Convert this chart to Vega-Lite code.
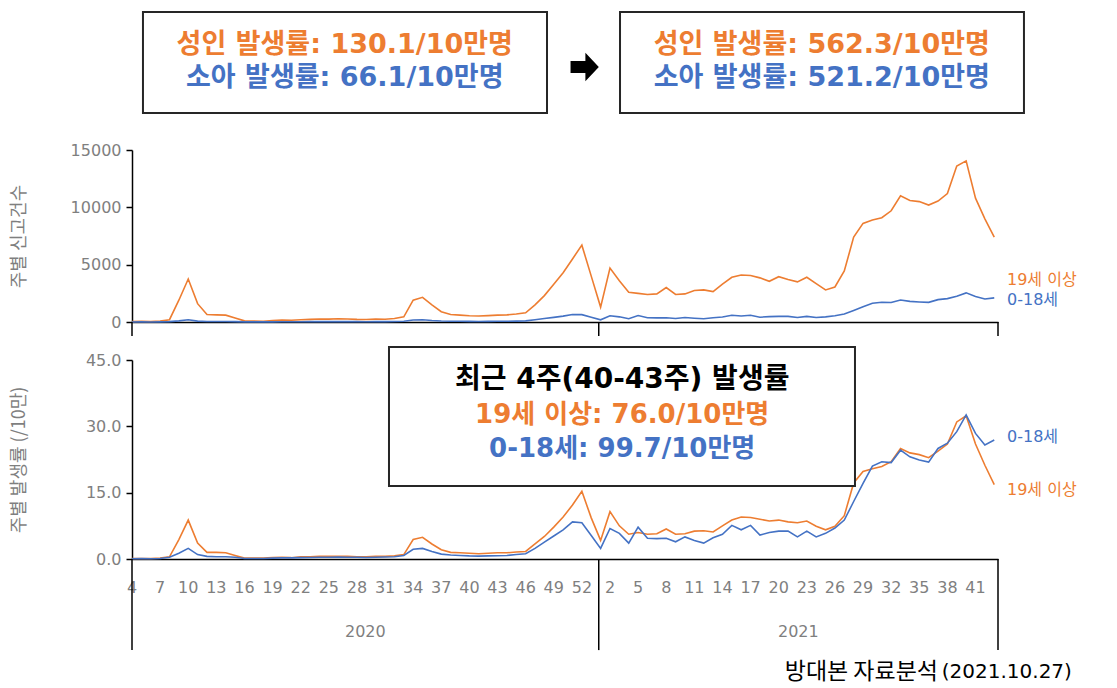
{
  "$schema": "https://vega.github.io/schema/vega-lite/v6.json",
  "background": "white",
  "padding": {"left": 10, "top": 5, "right": 5, "bottom": 5},
  "config": {"view": {"stroke": null}, "font": "DejaVu Sans, Noto Sans CJK KR"},
  "bounds": "flush",
  "spacing": 38,
  "datasets": {
    "d": [
      {"i":0,"yr":2020,"w":4,"a_n":30,"c_n":5,"a_r":0.1,"c_r":0.05},
      {"i":1,"yr":2020,"w":5,"a_n":60,"c_n":8,"a_r":0.1,"c_r":0.1},
      {"i":2,"yr":2020,"w":6,"a_n":40,"c_n":5,"a_r":0.1,"c_r":0.05},
      {"i":3,"yr":2020,"w":7,"a_n":80,"c_n":10,"a_r":0.2,"c_r":0.1},
      {"i":4,"yr":2020,"w":8,"a_n":200,"c_n":30,"a_r":0.5,"c_r":0.4},
      {"i":5,"yr":2020,"w":9,"a_n":1900,"c_n":100,"a_r":4.4,"c_r":1.3},
      {"i":6,"yr":2020,"w":10,"a_n":3750,"c_n":190,"a_r":8.8,"c_r":2.4},
      {"i":7,"yr":2020,"w":11,"a_n":1600,"c_n":80,"a_r":3.6,"c_r":1.0},
      {"i":8,"yr":2020,"w":12,"a_n":650,"c_n":45,"a_r":1.5,"c_r":0.6},
      {"i":9,"yr":2020,"w":13,"a_n":620,"c_n":40,"a_r":1.5,"c_r":0.5},
      {"i":10,"yr":2020,"w":14,"a_n":600,"c_n":40,"a_r":1.4,"c_r":0.5},
      {"i":11,"yr":2020,"w":15,"a_n":350,"c_n":30,"a_r":0.8,"c_r":0.4},
      {"i":12,"yr":2020,"w":16,"a_n":100,"c_n":10,"a_r":0.2,"c_r":0.1},
      {"i":13,"yr":2020,"w":17,"a_n":80,"c_n":10,"a_r":0.2,"c_r":0.1},
      {"i":14,"yr":2020,"w":18,"a_n":70,"c_n":10,"a_r":0.2,"c_r":0.1},
      {"i":15,"yr":2020,"w":19,"a_n":120,"c_n":15,"a_r":0.3,"c_r":0.2},
      {"i":16,"yr":2020,"w":20,"a_n":180,"c_n":20,"a_r":0.4,"c_r":0.25},
      {"i":17,"yr":2020,"w":21,"a_n":150,"c_n":20,"a_r":0.3,"c_r":0.25},
      {"i":18,"yr":2020,"w":22,"a_n":200,"c_n":25,"a_r":0.5,"c_r":0.3},
      {"i":19,"yr":2020,"w":23,"a_n":230,"c_n":30,"a_r":0.5,"c_r":0.35},
      {"i":20,"yr":2020,"w":24,"a_n":260,"c_n":30,"a_r":0.6,"c_r":0.4},
      {"i":21,"yr":2020,"w":25,"a_n":250,"c_n":30,"a_r":0.6,"c_r":0.4},
      {"i":22,"yr":2020,"w":26,"a_n":280,"c_n":35,"a_r":0.6,"c_r":0.45},
      {"i":23,"yr":2020,"w":27,"a_n":260,"c_n":30,"a_r":0.6,"c_r":0.4},
      {"i":24,"yr":2020,"w":28,"a_n":230,"c_n":30,"a_r":0.5,"c_r":0.4},
      {"i":25,"yr":2020,"w":29,"a_n":220,"c_n":25,"a_r":0.5,"c_r":0.35},
      {"i":26,"yr":2020,"w":30,"a_n":250,"c_n":30,"a_r":0.6,"c_r":0.4},
      {"i":27,"yr":2020,"w":31,"a_n":240,"c_n":35,"a_r":0.6,"c_r":0.45},
      {"i":28,"yr":2020,"w":32,"a_n":300,"c_n":40,"a_r":0.7,"c_r":0.5},
      {"i":29,"yr":2020,"w":33,"a_n":450,"c_n":60,"a_r":1.0,"c_r":0.8},
      {"i":30,"yr":2020,"w":34,"a_n":1900,"c_n":170,"a_r":4.4,"c_r":2.2},
      {"i":31,"yr":2020,"w":35,"a_n":2150,"c_n":190,"a_r":4.9,"c_r":2.4},
      {"i":32,"yr":2020,"w":36,"a_n":1500,"c_n":130,"a_r":3.4,"c_r":1.7},
      {"i":33,"yr":2020,"w":37,"a_n":900,"c_n":90,"a_r":2.1,"c_r":1.1},
      {"i":34,"yr":2020,"w":38,"a_n":650,"c_n":70,"a_r":1.5,"c_r":0.9},
      {"i":35,"yr":2020,"w":39,"a_n":600,"c_n":60,"a_r":1.4,"c_r":0.8},
      {"i":36,"yr":2020,"w":40,"a_n":550,"c_n":55,"a_r":1.3,"c_r":0.7},
      {"i":37,"yr":2020,"w":41,"a_n":520,"c_n":50,"a_r":1.2,"c_r":0.65},
      {"i":38,"yr":2020,"w":42,"a_n":560,"c_n":55,"a_r":1.3,"c_r":0.7},
      {"i":39,"yr":2020,"w":43,"a_n":600,"c_n":60,"a_r":1.4,"c_r":0.75},
      {"i":40,"yr":2020,"w":44,"a_n":620,"c_n":65,"a_r":1.4,"c_r":0.8},
      {"i":41,"yr":2020,"w":45,"a_n":700,"c_n":80,"a_r":1.6,"c_r":1.0},
      {"i":42,"yr":2020,"w":46,"a_n":800,"c_n":95,"a_r":1.7,"c_r":1.2},
      {"i":43,"yr":2020,"w":47,"a_n":1500,"c_n":190,"a_r":3.4,"c_r":2.4},
      {"i":44,"yr":2020,"w":48,"a_n":2300,"c_n":300,"a_r":5.1,"c_r":3.8},
      {"i":45,"yr":2020,"w":49,"a_n":3300,"c_n":400,"a_r":7.2,"c_r":5.2},
      {"i":46,"yr":2020,"w":50,"a_n":4300,"c_n":510,"a_r":9.5,"c_r":6.6},
      {"i":47,"yr":2020,"w":51,"a_n":5500,"c_n":650,"a_r":12.2,"c_r":8.4},
      {"i":48,"yr":2020,"w":52,"a_n":6700,"c_n":640,"a_r":15.3,"c_r":8.2},
      {"i":49,"yr":2020,"w":53,"a_n":4000,"c_n":410,"a_r":9.3,"c_r":5.3},
      {"i":50,"yr":2021,"w":1,"a_n":1300,"c_n":190,"a_r":4.2,"c_r":2.4},
      {"i":51,"yr":2021,"w":2,"a_n":4700,"c_n":540,"a_r":10.7,"c_r":6.9},
      {"i":52,"yr":2021,"w":3,"a_n":3600,"c_n":450,"a_r":7.5,"c_r":5.8},
      {"i":53,"yr":2021,"w":4,"a_n":2600,"c_n":280,"a_r":5.6,"c_r":3.6},
      {"i":54,"yr":2021,"w":5,"a_n":2500,"c_n":560,"a_r":6.0,"c_r":7.2},
      {"i":55,"yr":2021,"w":6,"a_n":2400,"c_n":370,"a_r":5.6,"c_r":4.7},
      {"i":56,"yr":2021,"w":7,"a_n":2450,"c_n":360,"a_r":5.7,"c_r":4.6},
      {"i":57,"yr":2021,"w":8,"a_n":3000,"c_n":370,"a_r":6.8,"c_r":4.7},
      {"i":58,"yr":2021,"w":9,"a_n":2400,"c_n":300,"a_r":5.6,"c_r":3.9},
      {"i":59,"yr":2021,"w":10,"a_n":2450,"c_n":390,"a_r":5.7,"c_r":5.0},
      {"i":60,"yr":2021,"w":11,"a_n":2750,"c_n":330,"a_r":6.3,"c_r":4.2},
      {"i":61,"yr":2021,"w":12,"a_n":2800,"c_n":280,"a_r":6.4,"c_r":3.6},
      {"i":62,"yr":2021,"w":13,"a_n":2650,"c_n":370,"a_r":6.1,"c_r":4.8},
      {"i":63,"yr":2021,"w":14,"a_n":3300,"c_n":440,"a_r":7.5,"c_r":5.6},
      {"i":64,"yr":2021,"w":15,"a_n":3900,"c_n":590,"a_r":8.8,"c_r":7.6},
      {"i":65,"yr":2021,"w":16,"a_n":4100,"c_n":520,"a_r":9.5,"c_r":6.6},
      {"i":66,"yr":2021,"w":17,"a_n":4050,"c_n":590,"a_r":9.4,"c_r":7.6},
      {"i":67,"yr":2021,"w":18,"a_n":3850,"c_n":420,"a_r":9.0,"c_r":5.4},
      {"i":68,"yr":2021,"w":19,"a_n":3550,"c_n":470,"a_r":8.6,"c_r":6.0},
      {"i":69,"yr":2021,"w":20,"a_n":3950,"c_n":490,"a_r":8.8,"c_r":6.3},
      {"i":70,"yr":2021,"w":21,"a_n":3700,"c_n":490,"a_r":8.4,"c_r":6.3},
      {"i":71,"yr":2021,"w":22,"a_n":3500,"c_n":390,"a_r":8.2,"c_r":5.0},
      {"i":72,"yr":2021,"w":23,"a_n":3900,"c_n":490,"a_r":8.6,"c_r":6.3},
      {"i":73,"yr":2021,"w":24,"a_n":3350,"c_n":390,"a_r":7.4,"c_r":5.0},
      {"i":74,"yr":2021,"w":25,"a_n":2800,"c_n":450,"a_r":6.6,"c_r":5.8},
      {"i":75,"yr":2021,"w":26,"a_n":3050,"c_n":550,"a_r":7.4,"c_r":7.0},
      {"i":76,"yr":2021,"w":27,"a_n":4450,"c_n":690,"a_r":9.8,"c_r":8.8},
      {"i":77,"yr":2021,"w":28,"a_n":7400,"c_n":1010,"a_r":17.2,"c_r":13.0},
      {"i":78,"yr":2021,"w":29,"a_n":8600,"c_n":1330,"a_r":19.8,"c_r":17.1},
      {"i":79,"yr":2021,"w":30,"a_n":8900,"c_n":1640,"a_r":20.4,"c_r":21.0},
      {"i":80,"yr":2021,"w":31,"a_n":9100,"c_n":1720,"a_r":20.9,"c_r":22.0},
      {"i":81,"yr":2021,"w":32,"a_n":9700,"c_n":1700,"a_r":22.0,"c_r":21.8},
      {"i":82,"yr":2021,"w":33,"a_n":11000,"c_n":1920,"a_r":25.0,"c_r":24.6},
      {"i":83,"yr":2021,"w":34,"a_n":10600,"c_n":1800,"a_r":24.0,"c_r":23.1},
      {"i":84,"yr":2021,"w":35,"a_n":10500,"c_n":1750,"a_r":23.6,"c_r":22.4},
      {"i":85,"yr":2021,"w":36,"a_n":10200,"c_n":1710,"a_r":22.9,"c_r":21.9},
      {"i":86,"yr":2021,"w":37,"a_n":10550,"c_n":1950,"a_r":24.4,"c_r":25.0},
      {"i":87,"yr":2021,"w":38,"a_n":11200,"c_n":2040,"a_r":26.0,"c_r":26.2},
      {"i":88,"yr":2021,"w":39,"a_n":13600,"c_n":2250,"a_r":31.0,"c_r":28.8},
      {"i":89,"yr":2021,"w":40,"a_n":14050,"c_n":2540,"a_r":32.4,"c_r":32.6},
      {"i":90,"yr":2021,"w":41,"a_n":10800,"c_n":2220,"a_r":26.0,"c_r":28.4},
      {"i":91,"yr":2021,"w":42,"a_n":9000,"c_n":2010,"a_r":21.2,"c_r":25.8},
      {"i":92,"yr":2021,"w":43,"a_n":7400,"c_n":2100,"a_r":16.8,"c_r":26.9}
    ],
    "one": [{}]
  },
  "vconcat": [
    {
      "width": 866,
      "height": 107,
      "data": {"name": "one"},
      "layer": [
        {
          "mark": {"type": "rect", "fill": "white", "stroke": "#262626", "strokeWidth": 2},
          "encoding": {
            "x": {"datum": 1.17, "type": "quantitative", "scale": {"domain": [0, 92.4], "nice": false, "zero": false}, "axis": null},
            "x2": {"datum": 44.28},
            "y": {"datum": 100, "type": "quantitative", "scale": {"domain": [0, 107], "nice": false, "zero": false}, "axis": null},
            "y2": {"datum": -1}
          }
        },
        {
          "mark": {"type": "rect", "fill": "white", "stroke": "#262626", "strokeWidth": 2},
          "encoding": {
            "x": {"datum": 52.07, "type": "quantitative"},
            "x2": {"datum": 95.17},
            "y": {"datum": 100, "type": "quantitative"},
            "y2": {"datum": -1}
          }
        },
        {
          "mark": {"type": "text", "fontSize": 27, "fontWeight": "bold", "color": "#ED7D31", "align": "center", "baseline": "middle"},
          "encoding": {"x": {"datum": 22.7, "type": "quantitative"}, "y": {"datum": 67, "type": "quantitative"}, "text": {"value": "성인 발생률: 130.1/10만명"}}
        },
        {
          "mark": {"type": "text", "fontSize": 27, "fontWeight": "bold", "color": "#4472C4", "align": "center", "baseline": "middle"},
          "encoding": {"x": {"datum": 22.7, "type": "quantitative"}, "y": {"datum": 34, "type": "quantitative"}, "text": {"value": "소아 발생률: 66.1/10만명"}}
        },
        {
          "mark": {"type": "text", "fontSize": 27, "fontWeight": "bold", "color": "#ED7D31", "align": "center", "baseline": "middle"},
          "encoding": {"x": {"datum": 73.6, "type": "quantitative"}, "y": {"datum": 67, "type": "quantitative"}, "text": {"value": "성인 발생률: 562.3/10만명"}}
        },
        {
          "mark": {"type": "text", "fontSize": 27, "fontWeight": "bold", "color": "#4472C4", "align": "center", "baseline": "middle"},
          "encoding": {"x": {"datum": 73.6, "type": "quantitative"}, "y": {"datum": 34, "type": "quantitative"}, "text": {"value": "소아 발생률: 521.2/10만명"}}
        },
        {
          "mark": {"type": "point", "shape": "M-1,-0.42L0.05,-0.42L0.05,-1L1,0L0.05,1L0.05,0.42L-1,0.42Z", "size": 800, "filled": true, "color": "black", "opacity": 1},
          "encoding": {"x": {"datum": 48.3, "type": "quantitative"}, "y": {"datum": 45, "type": "quantitative"}}
        }
      ]
    },
    {
      "width": 866,
      "height": 172,
      "layer": [
        {
          "data": {"name": "d"},
          "mark": {"type": "line", "color": "#ED7D31", "strokeWidth": 1.6},
          "encoding": {
            "x": {"field": "i", "type": "quantitative", "scale": {"domain": [0, 92.4], "nice": false, "zero": false},
                  "axis": {"domain": true, "domainColor": "black", "domainWidth": 1.5, "ticks": false, "labels": false, "grid": false, "title": null}},
            "y": {"field": "a_n", "type": "quantitative", "scale": {"domain": [0, 15000], "nice": false},
                  "axis": {"values": [0, 5000, 10000, 15000], "format": "d", "grid": false, "domainColor": "black", "domainWidth": 1.5, "tickColor": "black", "tickWidth": 1.5, "tickSize": 6, "labelColor": "#7f7f7f", "labelFontSize": 16, "labelPadding": 5, "title": "주별 신고건수", "titleColor": "#7f7f7f", "titleFontSize": 18, "titleFontWeight": "normal", "titleFont": "Noto Sans CJK KR", "minExtent": 94, "maxExtent": 94, "titlePadding": 10}}
          }
        },
        {
          "data": {"name": "d"},
          "mark": {"type": "line", "color": "#4472C4", "strokeWidth": 1.6},
          "encoding": {
            "x": {"field": "i", "type": "quantitative"},
            "y": {"field": "c_n", "type": "quantitative"}
          }
        },
        {"data": {"name": "one"}, "mark": {"type": "rule", "color": "black", "strokeWidth": 1.5}, "encoding": {"x": {"datum": 0, "type": "quantitative"}, "y": {"datum": 0, "type": "quantitative"}, "y2": {"datum": -1220}}},
        {"data": {"name": "one"}, "mark": {"type": "rule", "color": "black", "strokeWidth": 1.5}, "encoding": {"x": {"datum": 49.8, "type": "quantitative"}, "y": {"datum": 0, "type": "quantitative"}, "y2": {"datum": -1220}}},
        {"data": {"name": "one"}, "mark": {"type": "rule", "color": "black", "strokeWidth": 1.5}, "encoding": {"x": {"datum": 92.4, "type": "quantitative"}, "y": {"datum": 0, "type": "quantitative"}, "y2": {"datum": -1220}}},
        {
          "data": {"name": "one"},
          "mark": {"type": "text", "fontSize": 16, "color": "#ED7D31", "align": "left", "baseline": "middle", "dx": 9},
          "encoding": {"x": {"datum": 92.4, "type": "quantitative"}, "y": {"datum": 3660, "type": "quantitative"}, "text": {"value": "19세 이상"}}
        },
        {
          "data": {"name": "one"},
          "mark": {"type": "text", "fontSize": 16, "color": "#4472C4", "align": "left", "baseline": "middle", "dx": 9},
          "encoding": {"x": {"datum": 92.4, "type": "quantitative"}, "y": {"datum": 1920, "type": "quantitative"}, "text": {"value": "0-18세"}}
        }
      ]
    },
    {
      "width": 866,
      "height": 199,
      "layer": [
        {
          "data": {"name": "d"},
          "mark": {"type": "line", "color": "#ED7D31", "strokeWidth": 1.6},
          "encoding": {
            "x": {"field": "i", "type": "quantitative", "scale": {"domain": [0, 92.4], "nice": false, "zero": false},
                  "axis": {"domain": true, "domainColor": "black", "domainWidth": 1.5, "ticks": false, "labels": false, "grid": false, "title": null}},
            "y": {"field": "a_r", "type": "quantitative", "scale": {"domain": [0, 45], "nice": false},
                  "axis": {"values": [0, 15, 30, 45], "format": ".1f", "grid": false, "domainColor": "black", "domainWidth": 1.5, "tickColor": "black", "tickWidth": 1.5, "tickSize": 6, "labelColor": "#7f7f7f", "labelFontSize": 16, "labelPadding": 5, "title": "주별 발생률 (/10만)", "titleColor": "#7f7f7f", "titleFontSize": 18, "titleFontWeight": "normal", "titleFont": "Noto Sans CJK KR", "minExtent": 94, "maxExtent": 94, "titlePadding": 10}}
          }
        },
        {
          "data": {"name": "d"},
          "mark": {"type": "line", "color": "#4472C4", "strokeWidth": 1.6},
          "encoding": {
            "x": {"field": "i", "type": "quantitative"},
            "y": {"field": "c_r", "type": "quantitative"}
          }
        },
        {
          "data": {"name": "d"},
          "transform": [{"filter": "datum.i % 3 == 0"}],
          "mark": {"type": "text", "fontSize": 16, "color": "#7f7f7f", "align": "center", "baseline": "middle"},
          "encoding": {"x": {"field": "i", "type": "quantitative"}, "y": {"datum": -6.56, "type": "quantitative"}, "text": {"field": "w", "type": "nominal"}}
        },
        {"data": {"name": "one"}, "mark": {"type": "rule", "color": "black", "strokeWidth": 1.5}, "encoding": {"x": {"datum": 0, "type": "quantitative"}, "y": {"datum": 0, "type": "quantitative"}, "y2": {"datum": -20.6}}},
        {"data": {"name": "one"}, "mark": {"type": "rule", "color": "black", "strokeWidth": 1.5}, "encoding": {"x": {"datum": 49.8, "type": "quantitative"}, "y": {"datum": 0, "type": "quantitative"}, "y2": {"datum": -20.6}}},
        {"data": {"name": "one"}, "mark": {"type": "rule", "color": "black", "strokeWidth": 1.5}, "encoding": {"x": {"datum": 92.4, "type": "quantitative"}, "y": {"datum": 0, "type": "quantitative"}, "y2": {"datum": -20.6}}},
        {
          "data": {"name": "one"},
          "mark": {"type": "text", "fontSize": 16, "color": "#7f7f7f", "align": "center", "baseline": "middle"},
          "encoding": {"x": {"datum": 24.9, "type": "quantitative"}, "y": {"datum": -16.5, "type": "quantitative"}, "text": {"value": "2020"}}
        },
        {
          "data": {"name": "one"},
          "mark": {"type": "text", "fontSize": 16, "color": "#7f7f7f", "align": "center", "baseline": "middle"},
          "encoding": {"x": {"datum": 71.1, "type": "quantitative"}, "y": {"datum": -16.5, "type": "quantitative"}, "text": {"value": "2021"}}
        },
        {
          "data": {"name": "one"},
          "mark": {"type": "text", "fontSize": 16, "color": "#4472C4", "align": "left", "baseline": "middle", "dx": 9},
          "encoding": {"x": {"datum": 92.4, "type": "quantitative"}, "y": {"datum": 27.6, "type": "quantitative"}, "text": {"value": "0-18세"}}
        },
        {
          "data": {"name": "one"},
          "mark": {"type": "text", "fontSize": 16, "color": "#ED7D31", "align": "left", "baseline": "middle", "dx": 9},
          "encoding": {"x": {"datum": 92.4, "type": "quantitative"}, "y": {"datum": 15.6, "type": "quantitative"}, "text": {"value": "19세 이상"}}
        },
        {
          "data": {"name": "one"},
          "mark": {"type": "rect", "fill": "white", "stroke": "#262626", "strokeWidth": 2},
          "encoding": {"x": {"datum": 27.42, "type": "quantitative"}, "x2": {"datum": 77.14}, "y": {"datum": 47.94, "type": "quantitative"}, "y2": {"datum": 16.5}}
        },
        {
          "data": {"name": "one"},
          "mark": {"type": "text", "fontSize": 28, "fontWeight": "bold", "color": "black", "align": "center", "baseline": "middle"},
          "encoding": {"x": {"datum": 52.3, "type": "quantitative"}, "y": {"datum": 40.5, "type": "quantitative"}, "text": {"value": "최근 4주(40-43주) 발생률"}}
        },
        {
          "data": {"name": "one"},
          "mark": {"type": "text", "fontSize": 26, "fontWeight": "bold", "color": "#ED7D31", "align": "center", "baseline": "middle"},
          "encoding": {"x": {"datum": 52.3, "type": "quantitative"}, "y": {"datum": 32.6, "type": "quantitative"}, "text": {"value": "19세 이상: 76.0/10만명"}}
        },
        {
          "data": {"name": "one"},
          "mark": {"type": "text", "fontSize": 26, "fontWeight": "bold", "color": "#4472C4", "align": "center", "baseline": "middle"},
          "encoding": {"x": {"datum": 52.3, "type": "quantitative"}, "y": {"datum": 24.9, "type": "quantitative"}, "text": {"value": "0-18세: 99.7/10만명"}}
        },
        {
          "data": {"name": "one"},
          "mark": {"type": "text", "fontSize": 23, "color": "black", "align": "right", "baseline": "middle", "font": "Noto Sans CJK KR"},
          "encoding": {"x": {"datum": 86.0, "type": "quantitative"}, "y": {"datum": -25.6, "type": "quantitative"}, "text": {"value": "방대본 자료분석"}}
        },
        {
          "data": {"name": "one"},
          "mark": {"type": "text", "fontSize": 20, "color": "black", "align": "left", "baseline": "middle"},
          "encoding": {"x": {"datum": 86.4, "type": "quantitative"}, "y": {"datum": -25.6, "type": "quantitative"}, "text": {"value": "(2021.10.27)"}}
        }
      ]
    }
  ]
}
